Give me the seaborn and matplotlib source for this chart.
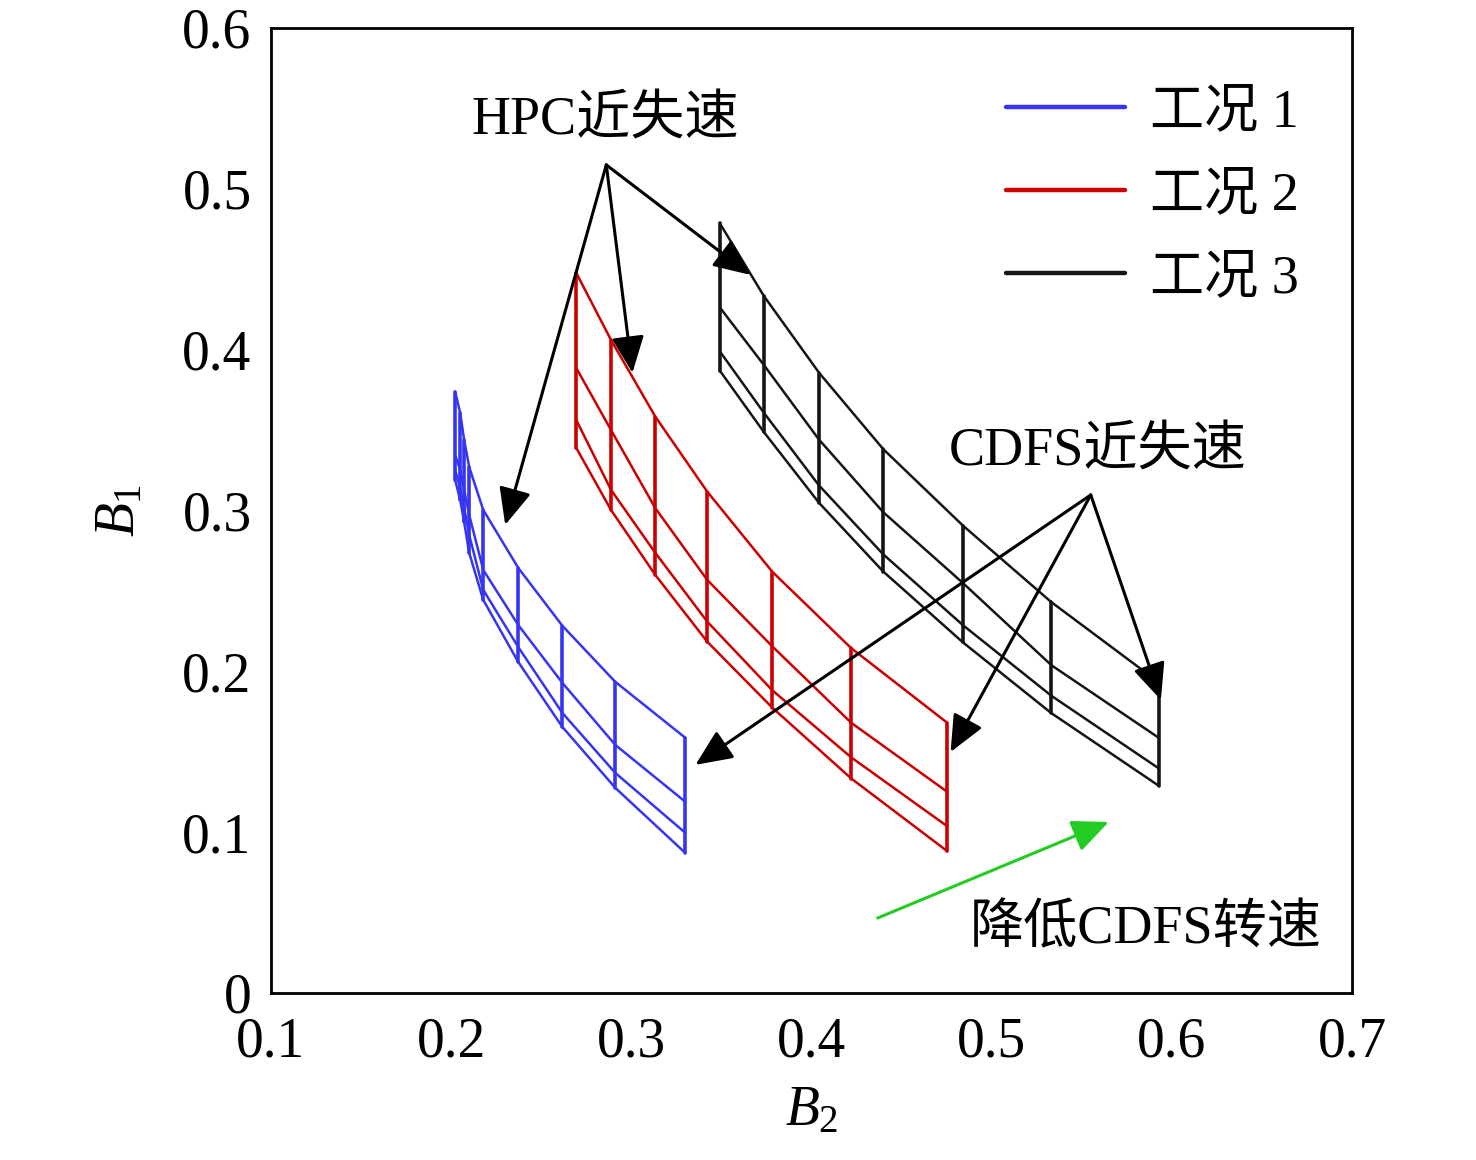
import numpy as np
import pandas as pd
import seaborn as sns
import matplotlib.pyplot as plt
from matplotlib.lines import Line2D

# 工况 1 (blue) - speed lines and the four B1 curves crossing them
b2_c1 = [0.2022, 0.2050, 0.2072, 0.2100, 0.2178, 0.2372, 0.2617, 0.2911, 0.3300]
b1_c1 = [
    [0.3739, 0.3606, 0.3438, 0.3270, 0.3003, 0.2643, 0.2283, 0.1934, 0.1586],
    [0.3345, 0.3252, 0.3128, 0.2972, 0.2630, 0.2288, 0.1928, 0.1542, 0.1188],
    [0.3252, 0.3140, 0.3016, 0.2848, 0.2506, 0.2151, 0.1741, 0.1368, 0.0995],
    [0.3190, 0.3066, 0.2929, 0.2736, 0.2444, 0.2058, 0.1654, 0.1275, 0.0870],
]

# 工况 2 (red)
b2_c2 = [0.2694, 0.2887, 0.3133, 0.3421, 0.3782, 0.4221, 0.4754]
b1_c2 = [
    [0.4477, 0.4060, 0.3583, 0.3117, 0.2619, 0.2143, 0.1679],
    [0.3886, 0.3500, 0.3014, 0.2568, 0.2155, 0.1679, 0.1250],
    [0.3563, 0.3128, 0.2736, 0.2309, 0.1882, 0.1464, 0.1036],
    [0.3389, 0.3003, 0.2599, 0.2184, 0.1774, 0.1333, 0.0881],
]

# 工况 3 (black)
b2_c3 = [0.3491, 0.3735, 0.4041, 0.4398, 0.4841, 0.5332, 0.5929]
b1_c3 = [
    [0.4785, 0.4334, 0.3857, 0.3381, 0.2905, 0.2429, 0.1930],
    [0.4262, 0.3905, 0.3441, 0.2989, 0.2548, 0.2037, 0.1585],
    [0.3989, 0.3608, 0.3156, 0.2727, 0.2286, 0.1847, 0.1395],
    [0.3869, 0.3488, 0.3048, 0.2620, 0.2179, 0.1739, 0.1287],
]

labels = ['工况 1', '工况 2', '工况 3']
colors = ['#3535f2', '#cc0000', '#151515']

# annotation anchors (B2, B1)
hpc_text = (0.2856, 0.5416)
hpc_from = (0.2861, 0.5148)
hpc_to = [(0.2300, 0.2910), (0.3006, 0.3855), (0.3661, 0.4464)]
cdfs_text = (0.5589, 0.3364)
cdfs_from = (0.5550, 0.3096)
cdfs_to = [(0.3356, 0.1418), (0.4772, 0.1498), (0.5939, 0.1822)]
green_from = (0.4367, 0.0466)
green_to = (0.5650, 0.1063)
speed_text = (0.5856, 0.0392)

# long tables for seaborn
curve_rows = []
vert_rows = []
for lab, b2s, b1s in zip(labels, [b2_c1, b2_c2, b2_c3], [b1_c1, b1_c2, b1_c3]):
    for k, curve in enumerate(b1s):
        for x, y in zip(b2s, curve):
            curve_rows.append({'case': lab, 'unit': f'{lab}-c{k}', 'B2': x, 'B1': y})
    arr = np.array(b1s)
    for j, x in enumerate(b2s):
        vert_rows.append({'case': lab, 'unit': f'{lab}-v{j}', 'B2': x, 'B1': arr[:, j].max()})
        vert_rows.append({'case': lab, 'unit': f'{lab}-v{j}', 'B2': x, 'B1': arr[:, j].min()})
curves = pd.DataFrame(curve_rows)
verts = pd.DataFrame(vert_rows)

sns.set_style('white')
plt.rcParams['font.family'] = ['Liberation Serif', 'Noto Sans CJK SC']
plt.rcParams['mathtext.fontset'] = 'custom'
plt.rcParams['mathtext.rm'] = 'Liberation Serif'
plt.rcParams['mathtext.it'] = 'Liberation Serif:italic'
plt.rcParams['text.color'] = 'k'
plt.rcParams['axes.labelcolor'] = 'k'

fig = plt.figure(figsize=(14.76, 11.6), dpi=100)
ax = fig.add_axes([0.1836, 0.144, 0.7324, 0.832])

pal = dict(zip(labels, colors))
sns.lineplot(data=curves, x='B2', y='B1', hue='case', units='unit', estimator=None,
             sort=False, palette=pal, linewidth=1.8, legend=False, ax=ax)
sns.lineplot(data=verts, x='B2', y='B1', hue='case', units='unit', estimator=None,
             sort=False, palette=pal, linewidth=2.6, legend=False, ax=ax)

ax.set_xlim(0.1, 0.7)
ax.set_ylim(0, 0.6)
ax.set_xticks(np.arange(0.1, 0.71, 0.1))
ax.set_yticks(np.arange(0, 0.61, 0.1))
ax.set_xticklabels(['0.1', '0.2', '0.3', '0.4', '0.5', '0.6', '0.7'])
ax.set_yticklabels(['0', '0.1', '0.2', '0.3', '0.4', '0.5', '0.6'])
ax.tick_params(direction='in', length=11.5, width=2, labelsize=40, colors='k')
ax.tick_params(axis='x', pad=17)
ax.tick_params(axis='y', pad=14)
for s in ax.spines.values():
    s.set_linewidth(2)
    s.set_color('k')
ax.set_xlabel('$B_2$', fontsize=40, labelpad=12)
ax.set_ylabel('$B_1$', fontsize=40, labelpad=26)

akw = dict(arrowstyle='-|>,head_length=0.9,head_width=0.4', color='k', lw=2.2,
           mutation_scale=25, shrinkA=0, shrinkB=0)
ax.text(*hpc_text, 'HPC近失速', fontsize=39, ha='center', va='center')
for p in hpc_to:
    ax.annotate('', xy=p, xytext=hpc_from, arrowprops=akw)
ax.text(*cdfs_text, 'CDFS近失速', fontsize=39, ha='center', va='center')
for p in cdfs_to:
    ax.annotate('', xy=p, xytext=cdfs_from, arrowprops=akw)
gkw = dict(akw, color='#22cc22')
ax.annotate('', xy=green_to, xytext=green_from, arrowprops=gkw)
ax.text(*speed_text, '降低CDFS转速', fontsize=39, ha='center', va='center')

handles = [Line2D([], [], color=c, lw=3.2) for c in colors]
ax.legend(handles, labels, loc='upper left', bbox_to_anchor=(0.680, 0.938),
          frameon=False, fontsize=39, handlelength=2.2, handletextpad=0.45,
          labelspacing=0.6, borderaxespad=0, borderpad=0)

fig.savefig('out.png', dpi=100)
